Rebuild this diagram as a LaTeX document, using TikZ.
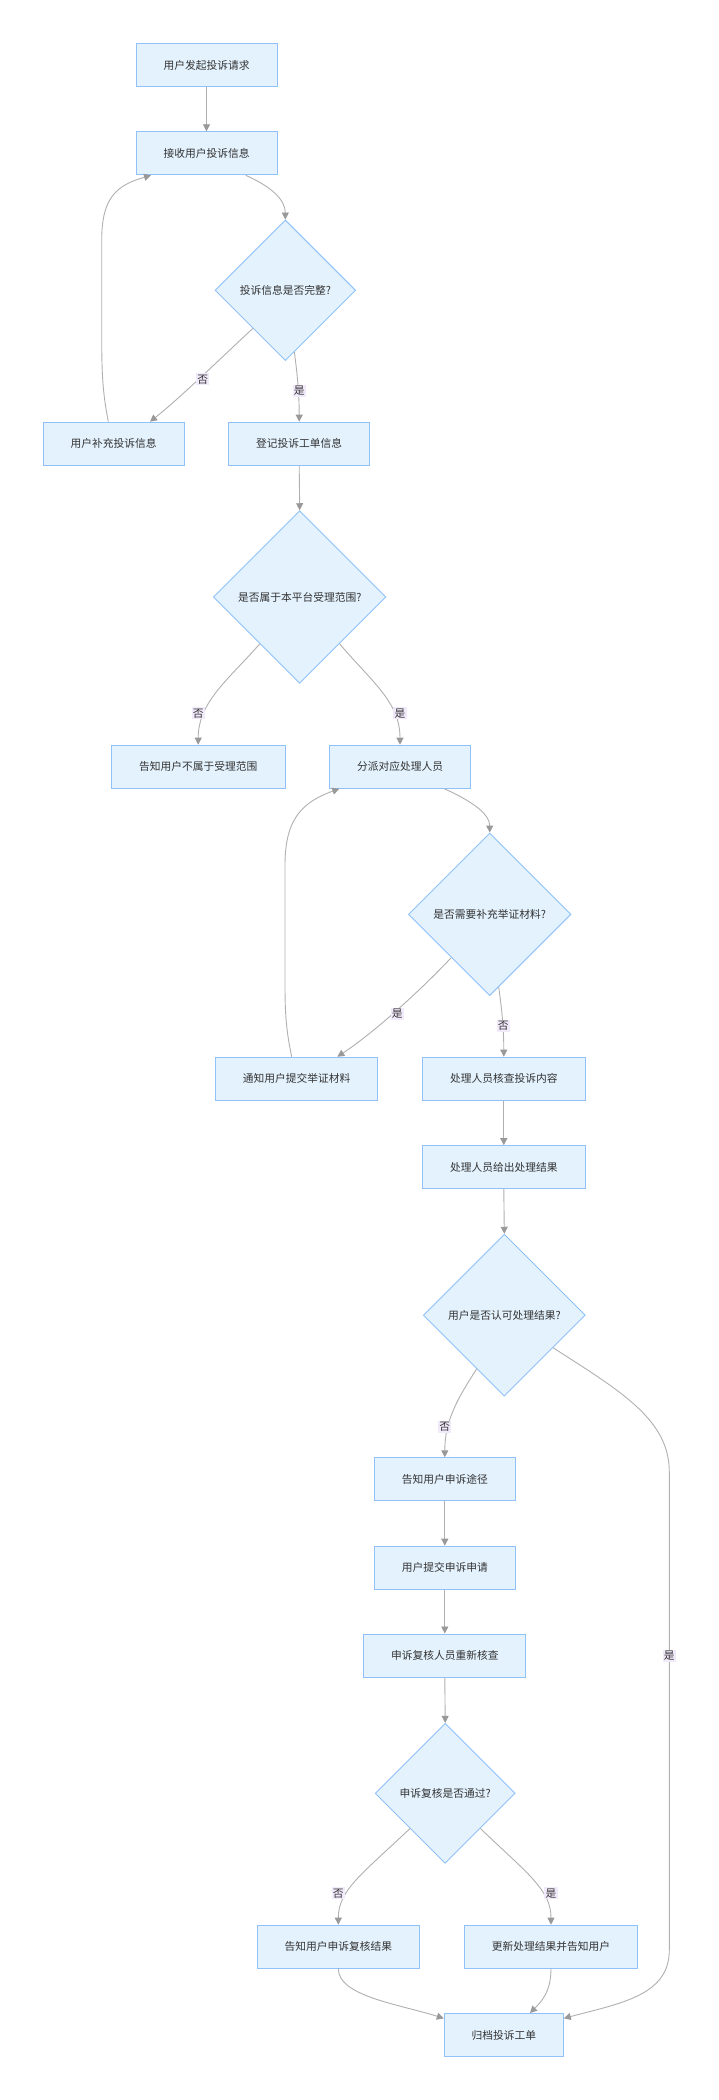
\documentclass[tikz,border=0pt]{standalone}
\usepackage{fontspec}
\newfontfamily\cjk{Noto Sans CJK SC}
\usetikzlibrary{shapes.geometric,arrows.meta,calc}
\definecolor{nodefill}{HTML}{E3F2FD}
\definecolor{nodedraw}{HTML}{90C2F9}
\definecolor{edgecol}{HTML}{B0B0B0}
\definecolor{tipcol}{HTML}{999999}
\definecolor{labfill}{HTML}{F1EAFB}
\definecolor{txt}{HTML}{333333}
\begin{document}
\begin{tikzpicture}[x=1pt,y=-1pt,
  box/.style={rectangle,draw=nodedraw,fill=nodefill,line width=1pt,minimum height=43pt,inner sep=0pt,font=\cjk\fontsize{10.75}{13}\selectfont,text=txt},
  dia/.style={diamond,aspect=1,draw=nodedraw,fill=nodefill,line width=0.9pt,inner sep=0pt,font=\cjk\fontsize{10.75}{13}\selectfont,text=txt},
  edge/.style={draw=edgecol,line width=0.9pt,-{Triangle[length=7pt,width=7pt,fill=tipcol,color=tipcol]}},
  elab/.style={fill=labfill,inner sep=1.2pt,font=\cjk\fontsize{10.75}{13}\selectfont,text=txt}]
\useasboundingbox[fill=white] (0,0) rectangle (718,2100);

% nodes
\node[box,minimum width=141pt] (A) at (206.5,65) {用户发起投诉请求};
\node[box,minimum width=141pt] (B) at (206.5,153.3) {接收用户投诉信息};
\node[dia,minimum width=140.6pt,minimum height=140.6pt] (C) at (285.3,290.3) {投诉信息是否完整?};
\node[box,minimum width=141pt] (D) at (113.7,443.7) {用户补充投诉信息};
\node[box,minimum width=141pt] (E) at (299.2,443.7) {登记投诉工单信息};
\node[dia,minimum width=172.6pt,minimum height=172.6pt] (F) at (299.7,597) {是否属于本平台受理范围?};
\node[box,minimum width=174pt] (G) at (198.2,766.7) {告知用户不属于受理范围};
\node[box,minimum width=141pt] (H) at (400,766.7) {分派对应处理人员};
\node[dia,minimum width=162.6pt,minimum height=162.6pt] (I) at (489.7,914.3) {是否需要补充举证材料?};
\node[box,minimum width=162.4pt] (J) at (296.5,1078.7) {通知用户提交举证材料};
\node[box,minimum width=163pt] (K) at (503.8,1078.7) {处理人员核查投诉内容};
\node[box,minimum width=163pt] (L) at (503.8,1167.2) {处理人员给出处理结果};
\node[dia,minimum width=162pt,minimum height=162pt] (M) at (504.3,1315.2) {用户是否认可处理结果?};
\node[box,minimum width=141pt] (N) at (444.8,1479.3) {告知用户申诉途径};
\node[box,minimum width=141pt] (O) at (444.8,1567.7) {用户提交申诉申请};
\node[box,minimum width=162pt] (P) at (444.8,1655.5) {申诉复核人员重新核查};
\node[dia,minimum width=140pt,minimum height=140pt] (Q) at (445.2,1793.3) {申诉复核是否通过?};
\node[box,minimum width=162pt] (R) at (338.3,1946.7) {告知用户申诉复核结果};
\node[box,minimum width=173.4pt] (S) at (551,1946.7) {更新处理结果并告知用户};
\node[box,minimum width=119pt] (Z) at (503.8,2035) {归档投诉工单};

% edges
\draw[edge] (A.south) -- (B.north);
\draw[edge] ([xshift=39.2pt]B.south) .. controls (272,187) and (285.3,200) .. (C.north);
\draw[edge] ($(C.west)!0.54!(C.south)$) .. controls (222,357) and (180,398) .. ([xshift=36.3pt]D.north);
\draw[edge] ($(C.south)!0.128!(C.east)$) .. controls (297,372) and (299.2,392) .. (E.north);
\draw[edge] ([xshift=-5.4pt]D.north) .. controls (102.5,392) and (101.7,372) .. (101.7,335) -- (101.7,240) .. controls (101.7,196) and (118,185) .. ([xshift=-55.5pt]B.south);
\draw[edge] (E.south) -- (F.north);
\draw[edge] ($(F.west)!0.54!(F.south)$) .. controls (228,680) and (198.2,702) .. (G.north);
\draw[edge] ($(F.south)!0.46!(F.east)$) .. controls (372,682) and (400,702) .. (H.north);
\draw[edge] ([xshift=44.3pt]H.south) .. controls (478,804) and (489.7,816) .. (I.north);
\draw[edge] ($(I.west)!0.53!(I.south)$) .. controls (418,993) and (372,1034) .. ([xshift=40.8pt]J.north);
\draw[edge] ($(I.south)!0.11!(I.east)$) .. controls (502,1010) and (503.8,1030) .. (K.north);
\draw[edge] ([xshift=-4.8pt]J.north) .. controls (286,1030) and (285,1012) .. (285,985) -- (285,865) .. controls (285,818) and (303,802) .. ([xshift=-60.7pt]H.south);
\draw[edge] (K.south) -- (L.north);
\draw[edge] (L.south) -- (M.north);
\draw[edge] ($(M.west)!0.66!(M.south)$) .. controls (458,1398) and (444.8,1420) .. (N.north);
\draw[edge] ($(M.south)!0.6!(M.east)$) .. controls (622,1392) and (669.3,1420) .. (669.3,1472) -- (669.3,1950) .. controls (669.3,1995) and (622,2003) .. ([yshift=16.7pt]Z.east);
\draw[edge] (N.south) -- (O.north);
\draw[edge] (O.south) -- (P.north);
\draw[edge] (P.south) -- (Q.north);
\draw[edge] ($(Q.west)!0.5!(Q.south)$) .. controls (362,1874) and (338.3,1890) .. (R.north);
\draw[edge] ($(Q.south)!0.5!(Q.east)$) .. controls (528,1874) and (551,1890) .. (S.north);
\draw[edge] (R.south) .. controls (338.3,1996) and (398,2004) .. ([yshift=16.7pt]Z.west);
\draw[edge] (S.south) .. controls (551,1992) and (541,2002) .. ([xshift=26.2pt]Z.north);

% edge labels
\node[elab] (l1) at (202.7,379.3) {否};
\node[elab] (l2) at (299.3,390.7) {是};
\node[elab] (l3) at (198.3,713.3) {否};
\node[elab] (l4) at (400,713.3) {是};
\node[elab] (l5) at (397.3,1014) {是};
\node[elab] (l6) at (503.3,1026) {否};
\node[elab] (l7) at (444.7,1426.7) {否};
\node[elab] (l8) at (669.3,1655.8) {是};
\node[elab] (l9) at (338.3,1893.3) {否};
\node[elab] (l10) at (551,1893.3) {是};
\end{tikzpicture}
\end{document}
